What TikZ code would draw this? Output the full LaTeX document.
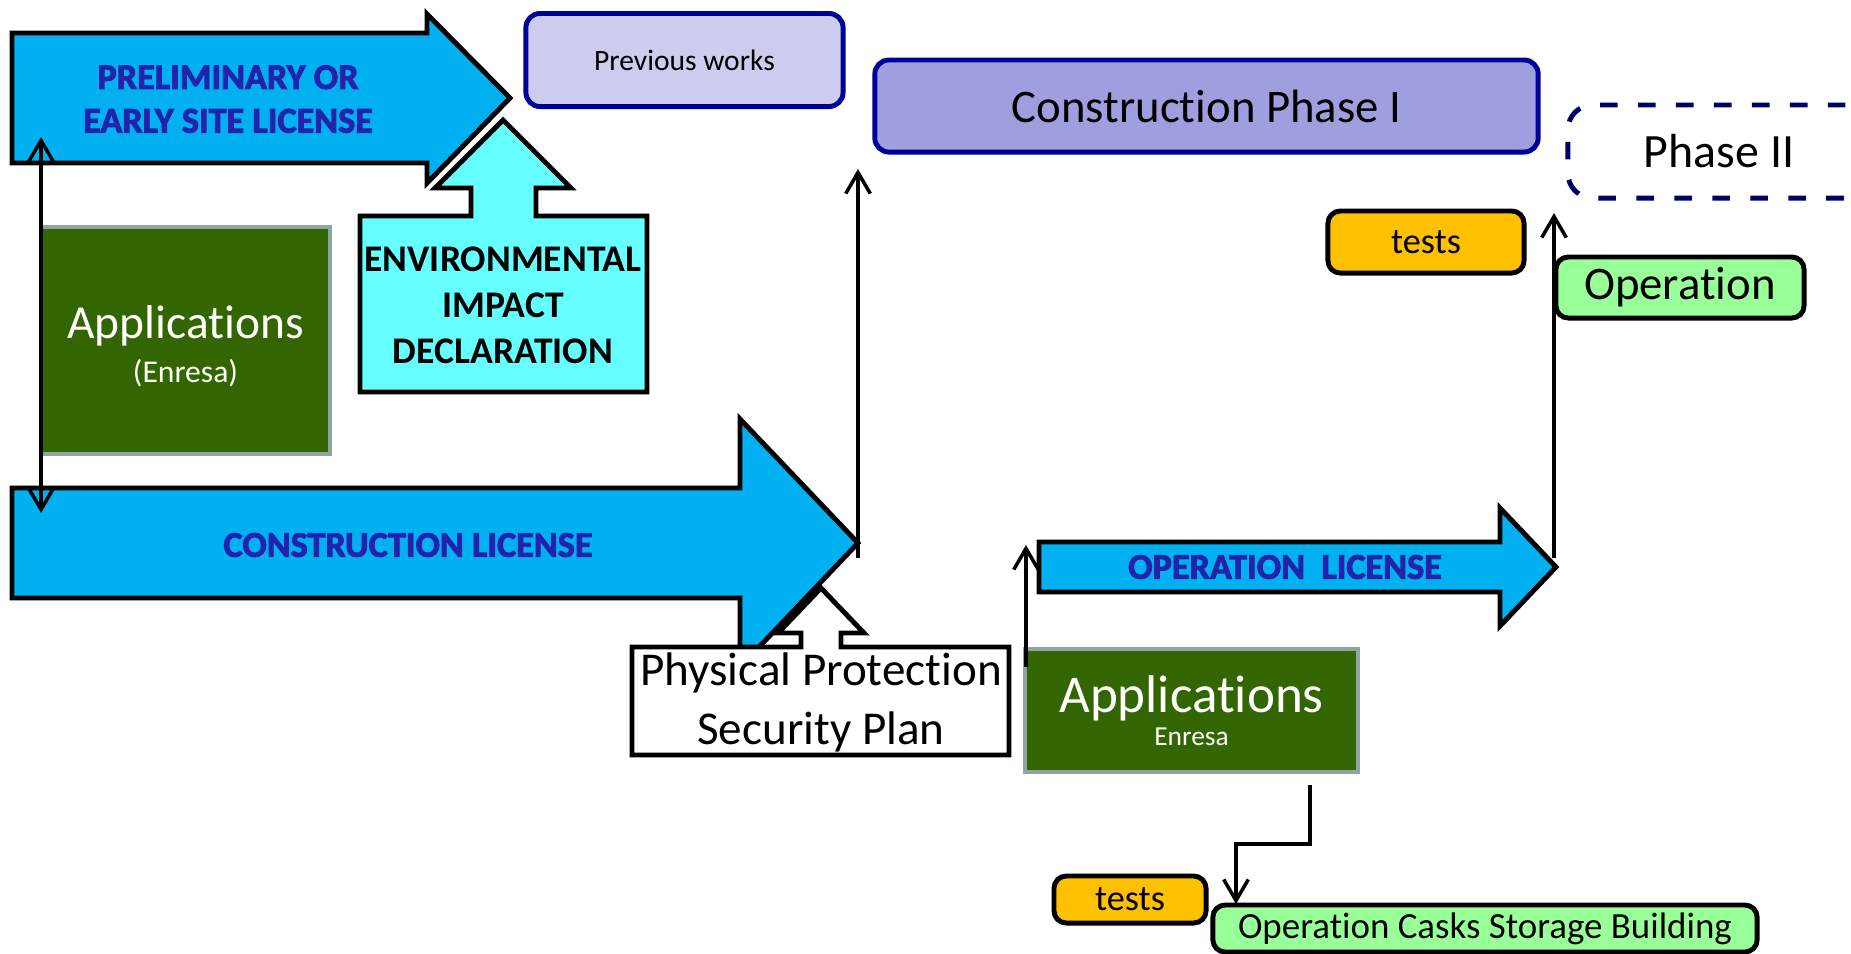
\documentclass[tikz,border=0pt]{standalone}
\usepackage{fontspec}
\setmainfont{Carlito}[Ligatures=NoCommon]
\newfontfamily\heavyfont{Carlito}[Ligatures=NoCommon,BoldFeatures={FakeBold=2.5}]
\usepackage{xcolor}
\usetikzlibrary{arrows.meta,calc}

\definecolor{licblue}{HTML}{00B0F0}
\definecolor{labblue}{HTML}{2222AA}
\definecolor{envcyan}{HTML}{66FFFF}
\definecolor{appgreen}{HTML}{336600}
\definecolor{appedge}{HTML}{8FA5A5}
\definecolor{prevfill}{HTML}{CCCCEE}
\definecolor{phasefill}{HTML}{9F9FDF}
\definecolor{boxblue}{HTML}{000099}
\definecolor{phaseedge}{HTML}{000066}
\definecolor{testfill}{HTML}{FFC000}
\definecolor{opfill}{HTML}{99FF99}

\begin{document}
\begin{tikzpicture}[x=0.01cm,y=-0.01cm,>={Straight Barb[length=6pt,width=7pt]},
    blockarrow/.style={draw=black,line width=1.4pt,fill=licblue,line join=miter},
    liclabel/.style={text=labblue,font=\heavyfont\bfseries\fontsize{10.3}{12.4}\selectfont,align=center},
    appbox/.style={draw=appedge,line width=1pt,fill=appgreen,text=white,inner sep=0pt,align=center},
    stagebox/.style={draw=boxblue,line width=1.4pt,rounded corners=4pt,inner sep=0pt},
    smallbox/.style={draw=black,line width=1.4pt,rounded corners=3.5pt,inner sep=0pt},
    link/.style={line width=1pt}]
  \useasboundingbox (0,0) rectangle (1851,953);
  \clip (0,0) rectangle (1851,953);

  % licences on the left
  \draw[blockarrow] (12,33) -- (427,33) -- (427,14) -- (510,98) -- (427,183) -- (427,163) -- (12,163) -- cycle;
  \node[liclabel] (prelim) at (228,99) {PRELIMINARY OR\\EARLY SITE LICENSE};
  \draw[blockarrow,fill=envcyan] (360,392) -- (360,216) -- (471,216) -- (471,188) -- (435,188) -- (503,120)
    -- (571,188) -- (536,188) -- (536,216) -- (647,216) -- (647,392) -- cycle;
  \node[font=\bfseries\fontsize{10.7}{13.1}\selectfont,align=center] (env) at (503,305) {ENVIRONMENTAL\\IMPACT\\DECLARATION};
  \node[appbox,minimum width=2.89cm,minimum height=2.27cm] (app1) at (185.5,340.5) {};
  \node[text=white,align=center,font=\fontsize{13.5}{16}\selectfont] (app1text) at (185.5,346)
    {Applications\\[-3.5pt]{\fontsize{9}{11}\selectfont (Enresa)}};
  \draw[blockarrow] (12,488) -- (740,488) -- (740,419) -- (858,543) -- (740,667) -- (740,598) -- (12,598) -- cycle;
  \node[liclabel] (conlic) at (408,545) {CONSTRUCTION LICENSE};
  \draw[blockarrow,fill=white] (632,755) -- (632,647) -- (801,647) -- (801,633) -- (778,633) -- (821,588)
    -- (864,633) -- (841,633) -- (841,647) -- (1009,647) -- (1009,755) -- cycle;
  \node[align=center,font=\fontsize{13.4}{16.8}\selectfont] (plan) at (821,702) {Physical Protection\\Security Plan};

  % phases
  \node[stagebox,fill=prevfill,minimum width=3.17cm,minimum height=0.93cm,font=\fontsize{8.4}{10}\selectfont] (prev) at (684.5,60) {Previous works};
  \node[stagebox,fill=phasefill,minimum width=6.63cm,minimum height=0.92cm,font=\fontsize{13.3}{16}\selectfont] (phase1) at (1206.5,106) {Construction Phase I};
  \node[stagebox,draw=phaseedge,dash pattern=on 5pt off 5.8pt,rounded corners=7pt,minimum width=3.02cm,minimum height=0.93cm,
    font=\fontsize{13.6}{16}\selectfont] (phase2) at (1719,151.5) {Phase II};
  \node[smallbox,fill=testfill,minimum width=1.96cm,minimum height=0.62cm,font=\fontsize{10.3}{12}\selectfont] (test1) at (1426,242) {tests};
  \node[smallbox,fill=opfill,minimum width=2.48cm,minimum height=0.61cm,font=\fontsize{13.3}{16}\selectfont] (oper) at (1680,287.5) {Operation};

  % operation licence
  \draw[blockarrow] (1039,542) -- (1500,542) -- (1500,508) -- (1556,567) -- (1500,626) -- (1500,592) -- (1039,592) -- cycle;
  \node[liclabel] (oplic) at (1285,567) {OPERATION\ \ LICENSE};
  \node[appbox,minimum width=3.33cm,minimum height=1.23cm,font=\fontsize{15.1}{18}\selectfont] (app2) at (1191.5,710.5)
    {Applications\\[-8.5pt]{\fontsize{7.8}{9}\selectfont Enresa}};
  \node[smallbox,fill=testfill,minimum width=1.52cm,minimum height=0.47cm,font=\fontsize{10.3}{12}\selectfont] (test2) at (1130,899.5) {tests};
  \node[smallbox,fill=opfill,minimum width=5.44cm,minimum height=0.47cm,font=\fontsize{10.5}{12}\selectfont] (casks) at (1485,928.5) {Operation Casks Storage Building};

  % connectors
  \coordinate (prelimfoot) at (41,137);
  \coordinate (conhead) at (41,513);
  \coordinate (contip) at (858,558);
  \coordinate (phasefoot) at (858,169);
  \coordinate (appside) at (1026,667);
  \coordinate (opstart) at (1026,545);
  \coordinate (optip) at (1554,558);
  \coordinate (phasetwofoot) at (1554,213);
  \coordinate (appfoot) at (1310,785);
  \coordinate (caskstop) at (1236,904);
  \draw[link,<->] (prelimfoot) -- (conhead);
  \draw[link,->] (contip) -- (phasefoot);
  \draw[link,->] (appside) -- (opstart);
  \draw[link,->] (optip) -- (phasetwofoot);
  \draw[link,->] (appfoot) -- ++(0,59) -| (caskstop);
\end{tikzpicture}
\end{document}
